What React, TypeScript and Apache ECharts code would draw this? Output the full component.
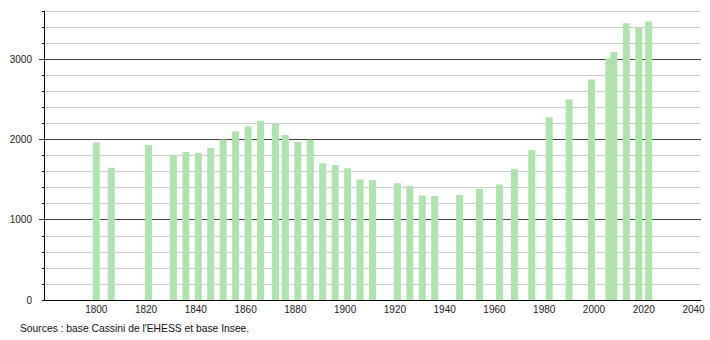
import React, { useEffect, useRef } from "react";
import * as echarts from "echarts";

const years = [
  1800, 1806, 1821, 1831, 1836, 1841, 1846, 1851, 1856, 1861, 1866, 1872, 1876,
  1881, 1886, 1891, 1896, 1901, 1906, 1911, 1921, 1926, 1931, 1936, 1946, 1954,
  1962, 1968, 1975, 1982, 1990, 1999, 2006, 2008, 2013, 2018, 2022,
];
const population = [
  1965, 1648, 1930, 1802, 1845, 1832, 1892, 2000, 2102, 2165, 2232, 2192, 2055,
  1968, 1995, 1702, 1683, 1640, 1502, 1493, 1455, 1420, 1302, 1296, 1310, 1385,
  1440, 1628, 1868, 2275, 2500, 2748, 3010, 3088, 3446, 3395, 3470,
];
const xTickLabels = [1800, 1820, 1840, 1860, 1880, 1900, 1920, 1940, 1960, 1980, 2000, 2020, 2040];
const yMajorTicks = [1000, 2000, 3000];
const sourceText = "Sources : base Cassini de l'EHESS et base Insee.";

const FONT = "'Liberation Sans', Arial, sans-serif";

export default function App() {
  const ref = useRef<HTMLDivElement>(null);
  useEffect(() => {
    if (!ref.current) return;
    const chart = echarts.init(ref.current, null, { renderer: "svg" });
    chart.setOption({
      animation: false,
      textStyle: { fontFamily: FONT },
      grid: { left: 44, right: 9, top: 11, bottom: 40, containLabel: false },
      xAxis: {
        type: "value",
        min: 1779,
        max: 2043,
        axisLine: { show: true, lineStyle: { color: "#000", width: 1 } },
        axisTick: { show: false },
        splitLine: { show: false },
        axisLabel: {
          customValues: xTickLabels,
          fontSize: 10,
          color: "#222",
          margin: 4,
          fontFamily: FONT,
          formatter: (v: number) => String(v),
        },
      },
      yAxis: [
        {
          type: "value",
          min: 0,
          max: 3600,
          interval: 200,
          axisLine: { show: true, lineStyle: { color: "#000", width: 1 } },
          axisTick: { show: true, length: 2, lineStyle: { color: "#000" } },
          axisLabel: {
            fontSize: 10,
            color: "#222",
            margin: 12,
            fontFamily: FONT,
            formatter: (v: number) => (v % 1000 === 0 ? String(v) : ""),
          },
          splitLine: {
            show: true,
            lineStyle: { color: ["#444", "#cccccc", "#cccccc", "#cccccc", "#cccccc"], width: 1 },
          },
        },
        {
          type: "value",
          position: "left",
          min: 0,
          max: 3600,
          interval: 200,
          axisLine: { show: false },
          axisTick: { show: true, length: 5, customValues: yMajorTicks, lineStyle: { color: "#333" } },
          axisLabel: { show: false },
          splitLine: { show: false },
        },
      ],
      series: [
        {
          type: "bar",
          data: years.map((y, i) => [y, population[i]]),
          barWidth: 7,
          itemStyle: { color: "#aee3ae" },
        },
      ],
      graphic: [
        {
          type: "text",
          left: 20,
          top: 323,
          style: { text: sourceText, fontSize: 10.3, fill: "#111", fontFamily: FONT },
        },
      ],
    });
    return () => chart.dispose();
  }, []);
  return (
    <div style={{ position: "fixed", left: 0, top: 0, width: 710, height: 340, background: "#fff" }}>
      <div ref={ref} style={{ width: 710, height: 340 }} />
    </div>
  );
}
